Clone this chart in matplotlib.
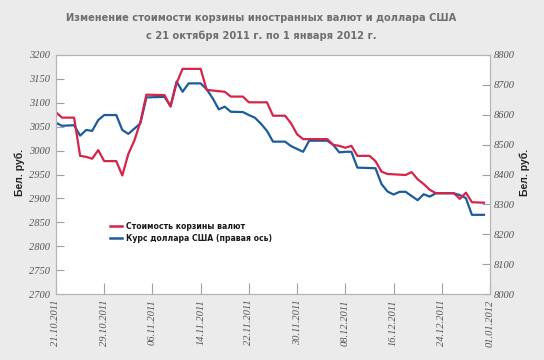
import matplotlib
matplotlib.use('Agg')
import matplotlib.pyplot as plt
from matplotlib import font_manager as fm
from matplotlib.lines import Line2D
import datetime as dt

# ---------------- data ----------------
start_date = dt.date(2011, 10, 21)

basket_days = [0, 1, 3, 4, 5, 6, 7, 8, 10, 11, 12, 13, 14, 15, 18, 19, 20, 21, 24, 25,
               28, 29, 31, 32, 35, 36, 38, 39, 40, 41, 45, 46, 47, 48, 49, 50, 52, 53, 54, 55,
               58, 59, 60, 61, 62, 63, 66, 67, 68, 69, 71]
basket_values = [3080, 3069, 3069, 2989, 2987, 2983, 3001, 2978, 2978, 2948, 2993, 3021, 3060, 3117,
                 3116, 3092, 3141, 3171, 3171, 3127, 3123, 3113, 3113, 3101, 3101, 3073, 3073, 3057,
                 3034, 3024, 3024, 3012, 3010, 3006, 3010, 2989, 2989, 2978, 2956, 2951, 2949, 2955,
                 2940, 2930, 2918, 2911, 2911, 2899, 2912, 2892, 2891]

usd_days = [0, 1, 3, 4, 5, 6, 7, 8, 10, 11, 12, 14, 15, 18, 19, 20, 21, 22, 24, 25,
            26, 27, 28, 29, 31, 32, 33, 34, 35, 36, 38, 39, 41, 42, 45, 46, 47, 48, 49, 50,
            53, 54, 55, 56, 57, 58, 59, 60, 61, 62, 63, 66, 67, 68, 69, 71]
usd_values = [8573, 8563, 8565, 8530, 8549, 8546, 8582, 8599, 8599, 8549, 8536, 8571, 8658, 8660,
              8629, 8711, 8677, 8705, 8705, 8685, 8655, 8618, 8627, 8610, 8609, 8599, 8590, 8570,
              8546, 8510, 8510, 8495, 8476, 8513, 8513, 8499, 8474, 8476, 8476, 8423, 8421, 8368,
              8343, 8333, 8342, 8342, 8328, 8314, 8334, 8326, 8337, 8337, 8331, 8321, 8265, 8265]

x_tick_labels = ['21.10.2011', '29.10.2011', '06.11.2011', '14.11.2011', '22.11.2011',
                 '30.11.2011', '08.12.2011', '16.12.2011', '24.12.2011', '01.01.2012']
left_ticks = [2700, 2750, 2800, 2850, 2900, 2950, 3000, 3050, 3100, 3150, 3200]
right_ticks = [8000, 8100, 8200, 8300, 8400, 8500, 8600, 8700, 8800]

title_line1 = 'Изменение стоимости корзины иностранных валют и доллара США'
title_line2 = 'с 21 октября 2011 г. по 1 января 2012 г.'
y_label = 'Бел. руб.'
legend_labels = ['Стоимость корзины валют', 'Курс доллара США (правая ось)']

# ---------------- style ----------------
RED = '#d7234a'
BLUE = '#1c5c9e'
TICK_COLOR = '#555555'
SPINE_COLOR = '#b5b5b5'

cond_fp = None
for f in fm.fontManager.ttflist:
    if 'Condensed' in f.fname and 'DejaVuSans' in f.fname and 'Bold' in f.fname and 'Oblique' not in f.fname:
        cond_fp = fm.FontProperties(fname=f.fname)
        break

W, H = 544, 360
fig = plt.figure(figsize=(W / 100, H / 100), dpi=100)
fig.patch.set_facecolor('#ebebeb')

L, R, T, B = 56, 490, 55, 294
ax2 = fig.add_axes([L / W, 1 - B / H, (R - L) / W, (B - T) / H])
ax = fig.add_axes([L / W, 1 - B / H, (R - L) / W, (B - T) / H], sharex=ax2)
ax2.set_zorder(1)
ax.set_zorder(2)
ax.patch.set_visible(False)
ax2.set_facecolor('white')

basket_dates = [start_date + dt.timedelta(days=d) for d in basket_days]
usd_dates = [start_date + dt.timedelta(days=d) for d in usd_days]

ax2.plot(usd_dates, usd_values, color=BLUE, lw=1.6)
ax.plot(basket_dates, basket_values, color=RED, lw=1.6)

tick_dates = [dt.datetime.strptime(s, '%d.%m.%Y').date() for s in x_tick_labels]
ax.set_xlim(start_date, dt.date(2012, 1, 1))

ax.set_ylim(2700, 3200)
ax2.set_ylim(8000, 8800)

ax.yaxis.tick_left()
ax2.yaxis.tick_right()
ax.set_yticks(left_ticks)
ax.set_yticklabels([str(v) for v in left_ticks])
ax2.set_yticks(right_ticks)
ax2.set_yticklabels([str(v) for v in right_ticks])

ax2.set_xticks(tick_dates)
ax2.set_xticklabels(x_tick_labels)
ax.tick_params(axis='x', which='both', bottom=False, labelbottom=False)

for lab in ax.get_yticklabels() + ax2.get_yticklabels() + ax2.get_xticklabels():
    lab.set_fontfamily('Liberation Serif')
    lab.set_fontstyle('italic')
    lab.set_fontsize(7.5)
    lab.set_color(TICK_COLOR)
for lab in ax2.get_xticklabels():
    lab.set_rotation(90)

ax.tick_params(axis='y', direction='in', length=6, width=0.8, color='#a0a0a0', pad=4.5)
ax2.tick_params(axis='y', direction='in', length=6, width=0.8, color='#a0a0a0', pad=3)
ax2.tick_params(axis='x', direction='in', length=8, width=0.8, color='#a0a0a0', pad=4)

for a in (ax, ax2):
    for s in a.spines.values():
        s.set_color(SPINE_COLOR)
        s.set_linewidth(0.8)

fig.text(20 / W, 1 - 172 / H, y_label, rotation=90, ha='center', va='center',
         family='Liberation Sans', weight='bold', fontsize=7.5, color='#222222')
fig.text(525 / W, 1 - 172 / H, y_label, rotation=90, ha='center', va='center',
         family='Liberation Sans', weight='bold', fontsize=7.5, color='#222222')

if cond_fp is not None:
    title_fp = cond_fp.copy(); title_fp.set_size(7.9)
    leg_fp = cond_fp.copy(); leg_fp.set_size(6.2)
else:
    title_fp = fm.FontProperties(family='DejaVu Sans', weight='bold', size=7.2)
    leg_fp = fm.FontProperties(family='Liberation Sans', weight='bold', size=6.2)

fig.text(261 / W, 1 - 18 / H, title_line1, ha='center', va='center',
         fontproperties=title_fp, color='#6e6e6e')
fig.text(261 / W, 1 - 36 / H, title_line2, ha='center', va='center',
         fontproperties=title_fp, color='#6e6e6e')

handles = [Line2D([], [], color=RED, lw=1.8), Line2D([], [], color=BLUE, lw=1.8)]
leg = ax.legend(handles, legend_labels, loc='center left',
                bbox_to_anchor=(110 / W, 1 - 232.5 / H), bbox_transform=fig.transFigure,
                frameon=False, borderpad=0, borderaxespad=0, handlelength=1.4,
                handletextpad=0.5, labelspacing=0.45, prop=leg_fp)
for t in leg.get_texts():
    t.set_color('#1a1a1a')

fig.savefig('out.png', dpi=100, facecolor=fig.get_facecolor())
